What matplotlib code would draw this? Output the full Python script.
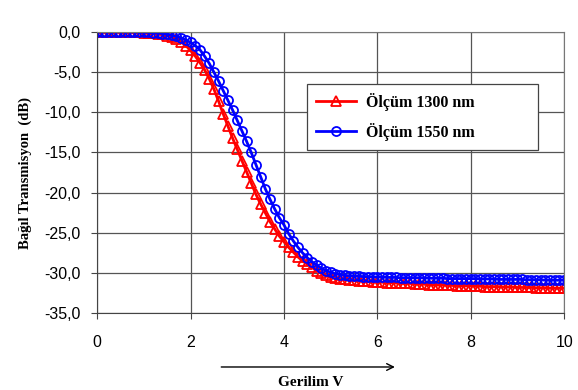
import matplotlib
matplotlib.use("Agg")
import matplotlib.pyplot as plt
from matplotlib.ticker import FuncFormatter

# voltage (V), step 0.1
gerilim = [round(i * 0.1, 1) for i in range(101)]

olcum_1300 = [
    0.0, 0.0, 0.0, 0.0, 0.0, 0.0, 0.0, -0.02, -0.05, -0.05,
    -0.1, -0.1, -0.15, -0.2, -0.3, -0.45, -0.65, -0.9, -1.25, -1.7,
    -2.3, -3.0, -3.8, -4.7, -5.8, -7.1, -8.6, -10.2, -11.7, -13.2,
    -14.6, -16.0, -17.4, -18.8, -20.2, -21.4, -22.5, -23.6, -24.5, -25.4,
    -26.1, -26.8, -27.4, -28.0, -28.5, -28.9, -29.3, -29.7, -30.0, -30.3,
    -30.5, -30.6, -30.7, -30.8, -30.85, -30.9, -30.95, -31.0, -31.05, -31.1,
    -31.1, -31.15, -31.2, -31.2, -31.25, -31.3, -31.3, -31.3, -31.35, -31.4,
    -31.4, -31.45, -31.5, -31.5, -31.5, -31.55, -31.55, -31.6, -31.6, -31.6,
    -31.6, -31.65, -31.65, -31.7, -31.7, -31.7, -31.7, -31.75, -31.75, -31.75,
    -31.8, -31.8, -31.8, -31.8, -31.85, -31.85, -31.85, -31.9, -31.9, -31.9,
    -31.9,
]

olcum_1550 = [
    0.0, 0.0, 0.0, 0.0, 0.0, 0.0, 0.0, 0.0, -0.02, -0.03,
    -0.05, -0.05, -0.1, -0.15, -0.2, -0.3, -0.4, -0.55, -0.75, -1.0,
    -1.3, -1.7, -2.2, -3.0, -3.9, -5.0, -6.1, -7.3, -8.5, -9.7,
    -11.0, -12.3, -13.6, -15.0, -16.5, -18.0, -19.5, -20.8, -22.0, -23.1,
    -24.0, -25.1, -26.0, -26.8, -27.5, -28.1, -28.6, -29.0, -29.4, -29.7,
    -29.9, -30.1, -30.2, -30.3, -30.35, -30.4, -30.4, -30.45, -30.45, -30.5,
    -30.5, -30.5, -30.55, -30.55, -30.55, -30.6, -30.6, -30.6, -30.6, -30.6,
    -30.6, -30.65, -30.65, -30.65, -30.65, -30.7, -30.7, -30.7, -30.7, -30.7,
    -30.7, -30.7, -30.75, -30.75, -30.75, -30.75, -30.8, -30.8, -30.8, -30.8,
    -30.8, -30.8, -30.85, -30.85, -30.85, -30.85, -30.9, -30.9, -30.9, -30.9,
    -30.9,
]

x_ticks = [0, 2, 4, 6, 8, 10]
y_ticks = [0, -5, -10, -15, -20, -25, -30, -35]

fig = plt.figure(figsize=(5.78, 3.9), dpi=100)
ax = fig.add_axes([0.168, 0.197, 0.808, 0.721])

ax.plot(gerilim, olcum_1300, color="#ff0000", lw=2, marker="^", ms=6.5,
        mfc="none", mec="#ff0000", mew=1.3, label="Ölçüm 1300 nm")
ax.plot(gerilim, olcum_1550, color="#0000ff", lw=2, marker="o", ms=6.5,
        mfc="none", mec="#0000ff", mew=1.3, label="Ölçüm 1550 nm")

ax.set_xlim(0, 10)
ax.set_ylim(-35, 0)
ax.set_xticks(x_ticks)
ax.set_yticks(y_ticks)
ax.yaxis.set_major_formatter(FuncFormatter(lambda v, p: f"{v:.1f}".replace(".", ",")))
ax.grid(True, color="#555555", lw=0.9)
ax.set_axisbelow(True)
for s in ["top", "right"]:
    ax.spines[s].set_color("#777777")
for s in ["left", "bottom"]:
    ax.spines[s].set_color("#444444")
ax.tick_params(direction="out", length=4, color="#444444", labelsize=11.5,
               labelfontfamily="Liberation Sans")
ax.tick_params(axis="y", pad=8)
ax.tick_params(axis="x", pad=12)

ax.set_ylabel("Bağıl Transmisyon  (dB)", family="Liberation Serif",
              fontweight="bold", fontsize=10.5)
ax.yaxis.set_label_coords(-0.14, 0.5)

leg = ax.legend(loc="upper left", bbox_to_anchor=(0.45, 0.594, 0.494, 0.221),
                mode="expand", borderaxespad=0, fancybox=False,
                edgecolor="#444444", framealpha=1, handlelength=2.5,
                handletextpad=0.6, labelspacing=0.75, borderpad=0.55,
                prop={"family": "Liberation Serif", "weight": "bold", "size": 11.5})
leg.get_frame().set_linewidth(0.9)

fig.text(0.538, 0.01, "Gerilim V", family="Liberation Serif",
         fontweight="bold", fontsize=11, ha="center")
fig.add_artist(matplotlib.patches.FancyArrowPatch(
    (0.378, 0.059), (0.688, 0.059), transform=fig.transFigure,
    arrowstyle="->", mutation_scale=12, color="black", lw=1))

fig.savefig("out.png", dpi=100, facecolor="white")
